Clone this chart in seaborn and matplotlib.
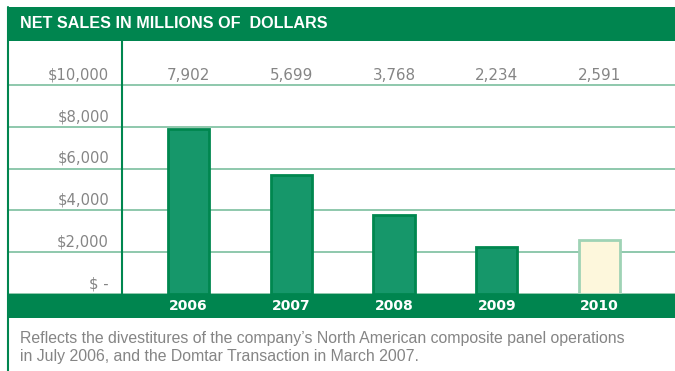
import matplotlib
matplotlib.use("Agg")
import matplotlib.pyplot as plt
import seaborn as sns
import pandas as pd
from matplotlib.patches import Rectangle

# Net sales data (millions of dollars)
years = ["2006", "2007", "2008", "2009", "2010"]
net_sales = [7902, 5699, 3768, 2234, 2591]
value_labels = ["7,902", "5,699", "3,768", "2,234", "2,591"]
tick_values = [0, 2000, 4000, 6000, 8000, 10000]
tick_labels = ["$ -", "$2,000", "$4,000", "$6,000", "$8,000", "$10,000"]

title = "NET SALES IN MILLIONS OF  DOLLARS"
caption = ("Reflects the divestitures of the company\u2019s North American composite panel operations\n"
           "in July 2006, and the Domtar Transaction in March 2007.")

GREEN = "#00854f"
BAR_GREEN = "#16976a"
BAR_EDGE = "#00874f"
CREAM = "#fdf7dc"
CREAM_EDGE = "#9fd3b5"
GRID = "#86c4a6"
GREY = "#858585"

sns.set_theme(style="white")
plt.rcParams["font.family"] = ["DejaVu Sans"]

W, H = 675, 371
fig = plt.figure(figsize=(W / 100, H / 100), dpi=100)

def fx(px):
    return px / W

def fy(py):
    return 1 - py / H

# plot area: from left frame line to right edge, header bottom to footer top
ax = fig.add_axes([fx(7), fy(294), fx(675 - 7), (294 - 41) / H])

df = pd.DataFrame({"year": years, "sales": net_sales})
sns.barplot(data=df, x="year", y="sales", hue="year", order=years,
            palette=[BAR_GREEN] * 4 + [CREAM], width=0.4, legend=False,
            saturation=1, linewidth=2, ax=ax)
for i, patch in enumerate(ax.patches):
    patch.set_edgecolor(CREAM_EDGE if i == len(years) - 1 else BAR_EDGE)
    patch.set_linewidth(2)
    patch.set_zorder(3)

ax.set_xlim(-1.766, 4.735)
ax.set_ylim(0, 12105)
ax.set_yticks(tick_values)
ax.set_yticklabels([])
ax.set_xticks([])
ax.set_xlabel("")
ax.set_ylabel("")
ax.tick_params(left=False, bottom=False)
ax.grid(axis="y", color=GRID, linewidth=1.3)
ax.set_axisbelow(True)
for s in ax.spines.values():
    s.set_visible(False)

# column separator between label column and bars
ax.axvline(-0.647, color=BAR_EDGE, linewidth=1.5, zorder=2)

# y-axis labels, sitting just above their gridlines
for v, lab in zip(tick_values, tick_labels):
    ax.annotate(lab, xy=(0.1527, v), xycoords=("axes fraction", "data"),
                xytext=(0, 7.4), textcoords="offset points",
                ha="right", va="center", color=GREY, fontsize=10.6)

# values row at the top
for i, lab in enumerate(value_labels):
    ax.annotate(lab, xy=(i, tick_values[-1]), xycoords="data",
                xytext=(0, 7.0), textcoords="offset points",
                ha="center", va="center", color=GREY, fontsize=10.9)

# header band
fig.add_artist(Rectangle((fx(7), fy(41)), fx(675 - 7), 34 / H,
                         transform=fig.transFigure, color=GREEN, lw=0))
fig.text(fx(20), fy(24), title, color="white", fontsize=11.6,
         fontweight="semibold", va="center", ha="left",
         family=["Liberation Sans", "DejaVu Sans"])

# footer band with year labels
fig.add_artist(Rectangle((fx(7), fy(318)), fx(675 - 7), 24 / H,
                         transform=fig.transFigure, color=GREEN, lw=0, zorder=5))
for i, yr in enumerate(years):
    xd = ax.transData.transform((i, 0))[0]
    fig.text(xd / fig.dpi / fig.get_figwidth(), fy(306), yr, color="white",
             fontsize=10, fontweight="bold", ha="center", va="center", zorder=6)

# left frame line
fig.add_artist(plt.Line2D([fx(7.5), fx(7.5)], [fy(7), 0], transform=fig.transFigure,
                          color=GREEN, linewidth=1.5))

# caption
fig.text(fx(20), fy(347.5), caption, color=GREY, fontsize=11.4, ha="left",
         va="center", linespacing=1.2, family=["Liberation Sans", "DejaVu Sans"])

fig.savefig("out.png", dpi=100)
